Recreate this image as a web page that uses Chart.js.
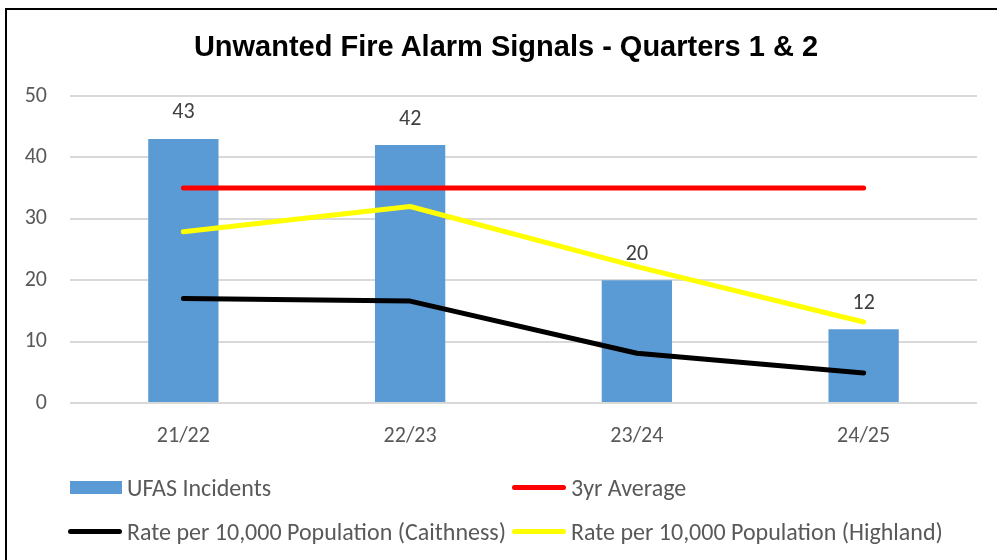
<!DOCTYPE html>
<html>
<head>
<meta charset="utf-8">
<script src="https://cdn.jsdelivr.net/npm/chart.js@4.4.1/dist/chart.umd.min.js"></script>
<style>
  html, body { margin:0; padding:0; background:#fff; overflow:hidden }
  #wrap { position:relative; width:997px; height:560px }
  #frame { position:absolute; left:5px; top:8px; width:1010px; height:570px; border:2px solid #000; box-sizing:border-box }
  #chart { position:absolute; left:0; top:0 }
  #title { position:absolute; left:6px; width:1000px; top:30px; text-align:center; line-height:29px;
           font:bold 29px "Liberation Sans", Arial, sans-serif; color:#000 }
  #legend { position:absolute; left:68px; top:465px; display:grid; grid-template-columns:444px 444px; grid-auto-rows:44px }
  .item { display:flex; align-items:center; font:24px Carlito, Lato, sans-serif; color:#595959; white-space:nowrap }
  .sw { width:54px; margin-right:5px; display:flex; align-items:center }
  .sw.bar span { display:block; width:52px; height:13px; margin-left:2px }
  .sw.line span { display:block; width:54px; height:5px; border-radius:3px }
</style>
</head>
<body>
<div id="wrap">
  <canvas id="chart" width="997" height="560"></canvas>
  <div id="frame"></div>
  <div id="title">Unwanted Fire Alarm Signals - Quarters 1 &amp; 2</div>
  <div id="legend"></div>
</div>
<script>
  // Data
  const years       = ['21/22', '22/23', '23/24', '24/25']
  const incidents   = [43, 42, 20, 12]
  const threeYrAvg  = [35, 35, 35, 35]
  const caithness   = [17.0, 16.6, 8.1, 4.9]
  const highland    = [27.9, 32.0, 22.2, 13.2]
  const yTicks      = [0, 10, 20, 30, 40, 50]

  const FONT = 'Carlito, Lato, sans-serif'

  // draw the value above each bar
  const barLabels = {
    id: 'barLabels',
    afterDatasetsDraw(chart){
      const meta = chart.getDatasetMeta(0)
      const ctx = chart.ctx
      ctx.save()
      ctx.font = '22px ' + FONT
      ctx.fillStyle = '#404040'
      ctx.textAlign = 'center'
      ctx.textBaseline = 'middle'
      meta.data.forEach((bar, i) => ctx.fillText(incidents[i], bar.x, bar.y - 26))
      ctx.restore()
    }
  }

  const line = (label, data, color) => ({
    type: 'line', label, data, borderColor: color, backgroundColor: color,
    borderWidth: 5, pointRadius: 0, tension: 0, borderCapStyle: 'round', borderJoinStyle: 'round', order: 1
  })

  const chart = new Chart(document.getElementById('chart'), {
    data: {
      labels: years,
      datasets: [
        { type: 'bar', label: 'UFAS Incidents', data: incidents, backgroundColor: '#5b9bd5',
          categoryPercentage: 1, barPercentage: 0.31, order: 2 },
        line('3yr Average', threeYrAvg, '#ff0000'),
        line('Rate per 10,000 Population (Caithness)', caithness, '#000000'),
        line('Rate per 10,000 Population (Highland)', highland, '#ffff00')
      ]
    },
    options: {
      responsive: false,
      animation: false,
      layout: { padding: { left: 0, right: 20, top: 96, bottom: 0 } },
      plugins: { legend: { display: false }, tooltip: { enabled: false }, title: { display: false } },
      scales: {
        x: {
          grid: { display: false },
          border: { display: false },
          ticks: { color: '#595959', font: { family: FONT, size: 22 }, padding: 12 },
          afterFit(s){ s.height = 157 }
        },
        y: {
          min: 0, max: 50,
          afterBuildTicks(s){ s.ticks = yTicks.map(v => ({ value: v })) },
          grid: { color: '#d9d9d9', lineWidth: 2, drawTicks: false },
          border: { display: false },
          ticks: { color: '#595959', font: { family: FONT, size: 22 }, padding: 23 },
          afterFit(s){ s.width = 70 }
        }
      }
    },
    plugins: [barLabels]
  })

  // HTML legend built from the chart datasets
  const legendEl = document.getElementById('legend')
  chart.data.datasets.forEach(ds => {
    const item = document.createElement('div')
    item.className = 'item'
    const kind = ds.type === 'bar' ? 'bar' : 'line'
    const color = ds.type === 'bar' ? ds.backgroundColor : ds.borderColor
    item.innerHTML = `<div class="sw ${kind}"><span style="background:${color}"></span></div><div>${ds.label}</div>`
    legendEl.appendChild(item)
  })
</script>
</body>
</html>
